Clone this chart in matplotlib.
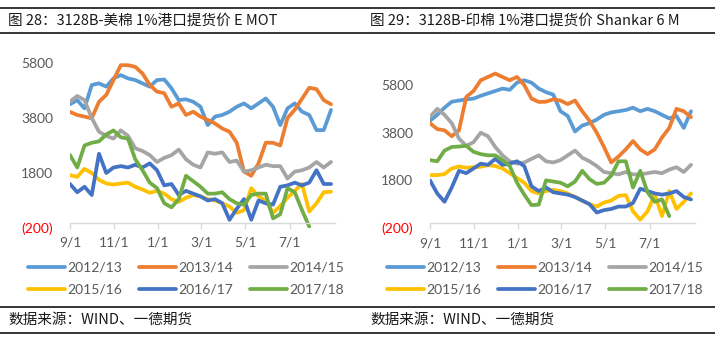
import matplotlib
matplotlib.use("Agg")
import matplotlib.pyplot as plt
from matplotlib.lines import Line2D
import numpy as np

# ---------------- data ----------------
DAYS = list(range(0, 361, 10))  # days after Sep 1
SEASONS = ["2012/13", "2013/14", "2014/15", "2015/16", "2016/17", "2017/18"]
COLORS = ["#5B9BD5", "#ED7D31", "#A5A5A5", "#FFC000", "#4472C4", "#70AD47"]

# Chart 28: US cotton (E MOT)
us_1213 = [4300, 4450, 4150, 5000, 5060, 4940, 5240, 5360, 5240, 5180, 5060, 4940, 5180, 5200,
           4880, 4450, 4480, 4390, 4210, 3540, 3850, 3910, 4030, 4210, 4330, 4150, 4330, 4510,
           4210, 3540, 4150, 4330, 4030, 3910, 3360, 3360, 4090]
us_1314 = [4020, 3910, 3850, 3790, 4390, 4640, 5180, 5720, 5720, 5660, 5420, 5000, 4760, 4700,
           4210, 4330, 3910, 4030, 3850, 3730, 3600, 3420, 3300, 2900, 1850, 1700, 2150, 2900,
           2900, 2800, 3800, 4100, 4500, 4900, 4850, 4450, 4300]
us_1415 = [4400, 4600, 4450, 3800, 3300, 3150, 3050, 3350, 3150, 2700, 2600, 2450, 2200, 2350,
           2450, 2650, 2300, 2100, 2000, 2550, 2500, 2550, 2200, 2250, 1850, 1900, 2000, 2100,
           2050, 2050, 1600, 1850, 1900, 2000, 2200, 2000, 2200]
us_1516 = [1720, 1660, 1950, 1800, 1550, 1420, 1380, 1420, 1450, 1300, 1200, 1080, 1150, 1050,
           850, 750, 900, 1000, 950, 850, 800, 700, 580, 350, 450, 1250, 950, 800, 350, 600, 900,
           1150, 1400, 400, 700, 1100, 1120]
us_1617 = [1400, 1100, 1300, 1000, 2500, 1800, 2000, 2050, 2000, 2100, 2000, 2150, 1900, 1350,
           1400, 1000, 1150, 1050, 950, 800, 850, 700, 100, 500, 850, 100, 800, 700, 650, 1300,
           1350, 1450, 1350, 1450, 1900, 1400, 1400]
us_1718 = [2450, 2000, 2800, 2900, 2950, 3200, 3350, 3100, 3050, 2300, 1900, 1450, 1250, 700,
           550, 850, 1700, 1500, 1300, 1050, 1050, 1100, 850, 700, 650, 1000, 1050, 1050, 150,
           300, 1250, 1100, 450, -150]

# Chart 29: Indian cotton (Shankar 6)
in_1213 = [4300, 4550, 4850, 5100, 5150, 5200, 5230, 5350, 5450, 5550, 5650, 5600, 5900, 6000,
           5900, 5650, 5500, 5400, 4700, 4500, 3850, 4100, 4200, 4350, 4550, 4650, 4700, 4750,
           4850, 4700, 4800, 4700, 4550, 4400, 4500, 4000, 4700]
in_1314 = [4200, 3950, 3900, 3650, 3900, 5300, 5550, 6000, 6140, 6280, 6140, 6000, 6140, 5800,
           5230, 5090, 5100, 5200, 5150, 5000, 5150, 4700, 4300, 3800, 3200, 2550, 2800, 3100,
           3450, 3100, 2900, 3100, 3600, 4000, 4800, 4700, 4450]
in_1415 = [4460, 4800, 4550, 4200, 3550, 3250, 3400, 3800, 3650, 3200, 2850, 2600, 2500, 2550,
           2700, 2850, 2600, 2550, 2650, 2850, 3050, 2750, 2600, 2400, 2150, 2100, 2050, 2150,
           2050, 2050, 2100, 2150, 2100, 2250, 2350, 2150, 2450]
in_1516 = [2020, 2020, 2060, 2300, 2380, 2330, 2350, 2370, 2440, 2400, 2300, 2100, 1900, 1700,
           1350, 1250, 1350, 1400, 1350, 1250, 1100, 950, 800, 700, 870, 950, 1150, 1180, 500,
           150, 500, 1200, 300, 1350, 600, 900, 1250]
in_1617 = [1800, 1250, 900, 1500, 2200, 2100, 2300, 2500, 2450, 2700, 2450, 2500, 2600, 2400,
           1550, 1350, 1500, 1300, 1250, 1200, 1100, 950, 800, 450, 550, 600, 700, 700, 850,
           1450, 1350, 1250, 1200, 1250, 1350, 1100, 1000]
in_1718 = [2650, 2600, 3050, 3200, 3220, 3250, 3000, 2900, 2850, 2850, 2650, 2400, 1700, 1200,
           760, 780, 1800, 1750, 1700, 1550, 1750, 2200, 1850, 1650, 1700, 2000, 2600, 2600, 1500,
           2200, 1300, 900, 1000, 300]

X_TICKS = [0, 61, 122, 181, 242, 303]
X_LABELS = ["9/1", "11/1", "1/1", "3/1", "5/1", "7/1"]
Y_TICKS = [-200, 1800, 3800, 5800]
Y_LABELS = ["(200)", "1800", "3800", "5800"]

TITLE_L = "图 28：3128B-美棉 1%港口提货价 E MOT"
TITLE_R = "图 29：3128B-印棉 1%港口提货价 Shankar 6 M"
SOURCE = "数据来源：WIND、一德期货"

# ---------------- drawing ----------------
W, H = 715, 341
fig = plt.figure(figsize=(W / 100, H / 100), dpi=100)
CJK = ["Noto Sans CJK SC", "DejaVu Sans"]
NUM = ["Lato", "DejaVu Sans"]
GREY_TXT = "#595959"


def fx(px):
    return px / W


def fy(py):
    return 1 - py / H


def make_axes(left_px, top_px, ymax, series):
    bottom_px = 228.0
    right_px = left_px + 0.725 * 365
    ax = fig.add_axes([fx(left_px), fy(bottom_px), (right_px - left_px) / W,
                       (bottom_px - top_px) / H])
    for vals, col, lab in zip(series, COLORS, SEASONS):
        ax.plot(DAYS[:len(vals)], vals, color=col, lw=2.7, label=lab,
                solid_joinstyle="round", solid_capstyle="round")
    ax.set_xlim(0, 365)
    ax.set_ylim(-200, ymax)
    for s in ("top", "right", "left"):
        ax.spines[s].set_visible(False)
    ax.spines["bottom"].set_position(("data", 0))
    ax.spines["bottom"].set_color("#D9D9D9")
    ax.spines["bottom"].set_linewidth(1.0)
    ax.set_xticks(X_TICKS)
    ax.set_xticklabels(X_LABELS, fontfamily=NUM, fontsize=10, color=GREY_TXT)
    ax.tick_params(axis="x", direction="out", length=4, width=1, color="#D9D9D9", pad=6)
    ax.set_yticks(Y_TICKS)
    ax.set_yticklabels(Y_LABELS, fontfamily=NUM, fontsize=10)
    for t in ax.get_yticklabels():
        t.set_color("#FF0000" if t.get_text().startswith("(") else GREY_TXT)
    ax.tick_params(axis="y", length=0, pad=12)
    ax.patch.set_alpha(0)
    return ax


axL = make_axes(70, 57.5, 6000, [us_1213, us_1314, us_1415, us_1516, us_1617, us_1718])
axR = make_axes(430, 61.2, 6800, [in_1213, in_1314, in_1415, in_1516, in_1617, in_1718])

ORDER = [0, 3, 1, 4, 2, 5]  # row-major layout in a 3-column legend
for ax, lx in ((axL, 28), (axR, 387)):
    handles, labels = ax.get_legend_handles_labels()
    fig.legend([handles[i] for i in ORDER], [labels[i] for i in ORDER], ncol=3,
               loc="upper left", bbox_to_anchor=(fx(lx), fy(262)), frameon=False,
               prop={"family": NUM, "size": 10}, labelcolor=GREY_TXT,
               handlelength=2.66, handletextpad=0.15, columnspacing=1.25,
               labelspacing=0.72, borderpad=0, borderaxespad=0)

# horizontal rules
for py in (7.5, 33, 307, 333):
    fig.add_artist(Line2D([0, 1], [fy(py), fy(py)], color="black", lw=1.1,
                          transform=fig.transFigure))

for x0, txt in ((8, TITLE_L), (370, TITLE_R)):
    fig.text(fx(x0), fy(21), txt, fontfamily=CJK, fontsize=10.5, va="center", ha="left",
             color="#1a1a1a")
for x0 in (8, 370):
    fig.text(fx(x0), fy(320), SOURCE, fontfamily=CJK, fontsize=10.5, va="center", ha="left",
             color="#1a1a1a")

fig.savefig("out.png", dpi=100)
